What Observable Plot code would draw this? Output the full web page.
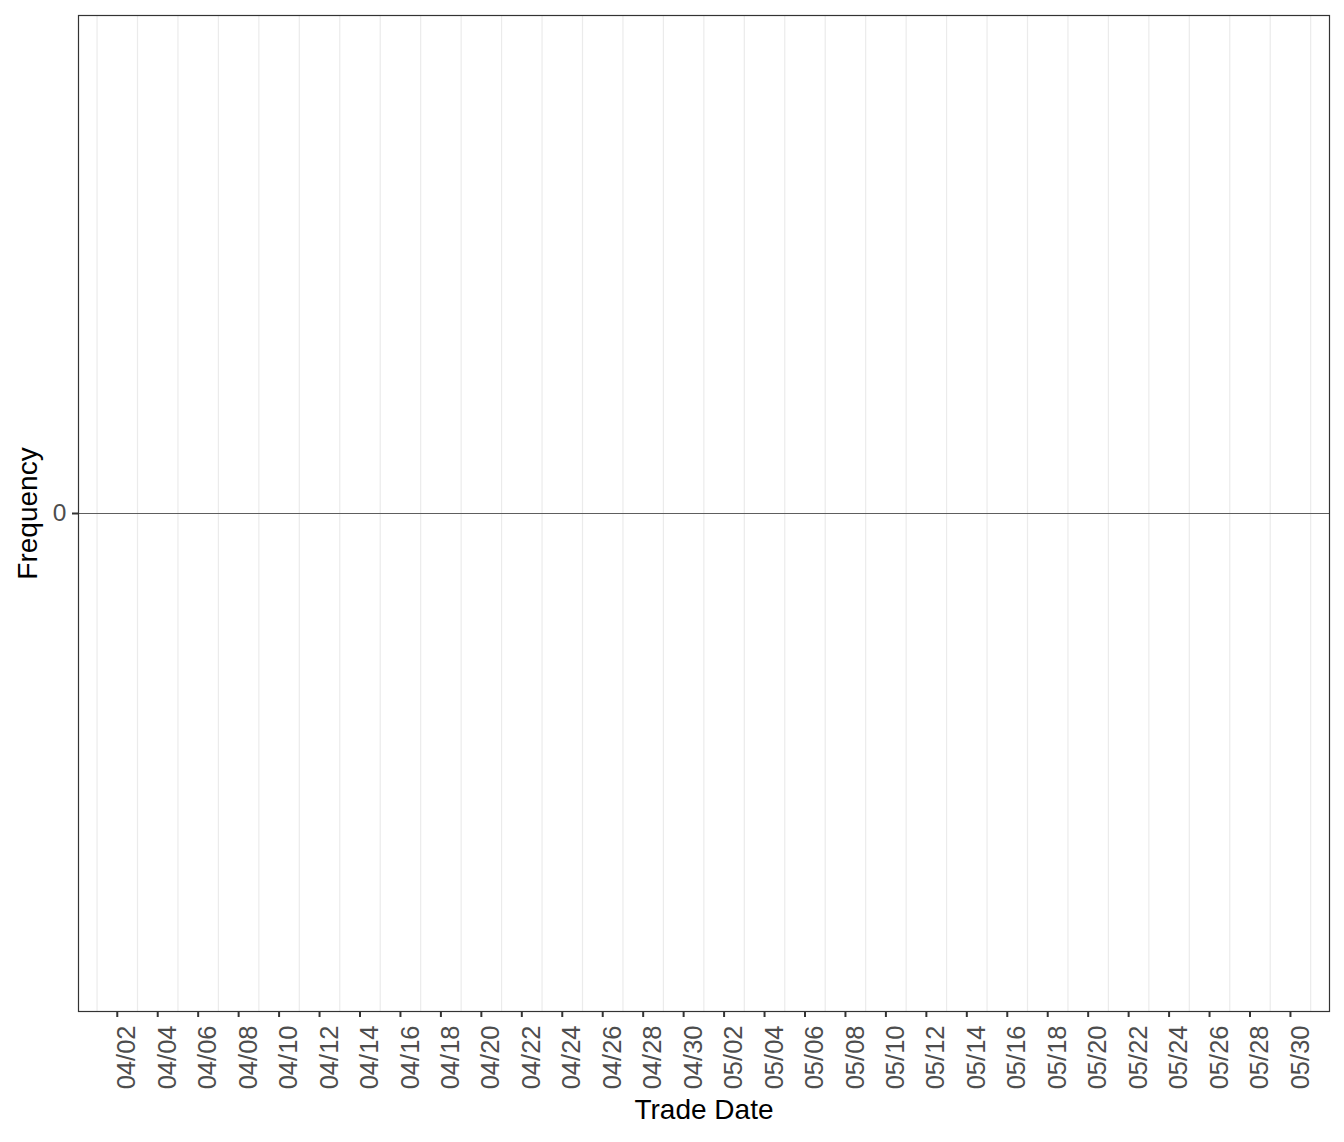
<!DOCTYPE html>
<html>
<head>
<meta charset="utf-8">
<script src="https://cdn.jsdelivr.net/npm/d3@7"></script>
<script src="https://cdn.jsdelivr.net/npm/@observablehq/plot@0.6"></script>
<style>
  html, body { margin: 0; padding: 0; background: #fff; }
  #chart svg { display: block; }
</style>
</head>
<body>
<div id="chart"></div>
<script>
// ---- data (chart is empty: no observations) ----
const tickDates = [
  "2021-04-02","2021-04-04","2021-04-06","2021-04-08","2021-04-10","2021-04-12",
  "2021-04-14","2021-04-16","2021-04-18","2021-04-20","2021-04-22","2021-04-24",
  "2021-04-26","2021-04-28","2021-04-30","2021-05-02","2021-05-04","2021-05-06",
  "2021-05-08","2021-05-10","2021-05-12","2021-05-14","2021-05-16","2021-05-18",
  "2021-05-20","2021-05-22","2021-05-24","2021-05-26","2021-05-28","2021-05-30"
];
const gridDates = [
  "2021-04-01","2021-04-03","2021-04-05","2021-04-07","2021-04-09","2021-04-11",
  "2021-04-13","2021-04-15","2021-04-17","2021-04-19","2021-04-21","2021-04-23",
  "2021-04-25","2021-04-27","2021-04-29","2021-05-01","2021-05-03","2021-05-05",
  "2021-05-07","2021-05-09","2021-05-11","2021-05-13","2021-05-15","2021-05-17",
  "2021-05-19","2021-05-21","2021-05-23","2021-05-25","2021-05-27","2021-05-29",
  "2021-05-31"
];
const xDomain = ["2021-03-31T02:00:00Z", "2021-05-31T22:20:00Z"];
const yTicks = [0];
const zeroLine = [0];
const xTitle = "Trade Date";
const yTitle = "Frequency";

const parse = s => new Date(s.length === 10 ? s + "T00:00:00Z" : s);
const ticks = tickDates.map(parse);
const grid = gridDates.map(parse);

const font = "'Liberation Sans', Arial, Helvetica, sans-serif";

const chart = Plot.plot({
  width: 1344,
  height: 1142,
  marginLeft: 78,
  marginRight: 15,
  marginTop: 15,
  marginBottom: 131,
  style: { fontFamily: font, background: "#fff" },
  x: { type: "utc", domain: xDomain.map(parse) },
  y: { domain: [-1, 1] },
  marks: [
    Plot.ruleX(grid, { stroke: "#ebebeb", strokeWidth: 1.2 }),
    Plot.ruleY(zeroLine, { stroke: "#5e5e5e", strokeWidth: 1 }),
    Plot.frame({ stroke: "#333333", strokeWidth: 1.2 }),
    Plot.axisX(ticks, {
      tickSize: 6,
      tickPadding: 8,
      tickRotate: -90,
      lineAnchor: "top",
      textAnchor: "end",
      stroke: "#333333",
      strokeWidth: 2,
      fill: "#4d4d4d",
      fontSize: 25.5,
      tickFormat: d3.utcFormat("%m/%d"),
      label: null
    }),
    Plot.axisY(yTicks, {
      tickSize: 6,
      tickPadding: 6,
      stroke: "#333333",
      strokeWidth: 2,
      fill: "#4d4d4d",
      fontSize: 24.5,
      tickFormat: d => String(d),
      label: null
    }),
    Plot.text([xTitle], {
      frameAnchor: "bottom",
      lineAnchor: "bottom",
      dy: 107,
      fontSize: 28,
      fill: "#000",
      text: d => d
    }),
    Plot.text([yTitle], {
      frameAnchor: "left",
      lineAnchor: "bottom",
      textAnchor: "middle",
      rotate: -90,
      dx: -42,
      fontSize: 28,
      fill: "#000",
      text: d => d
    })
  ]
});
document.getElementById("chart").append(chart);
</script>
</body>
</html>
